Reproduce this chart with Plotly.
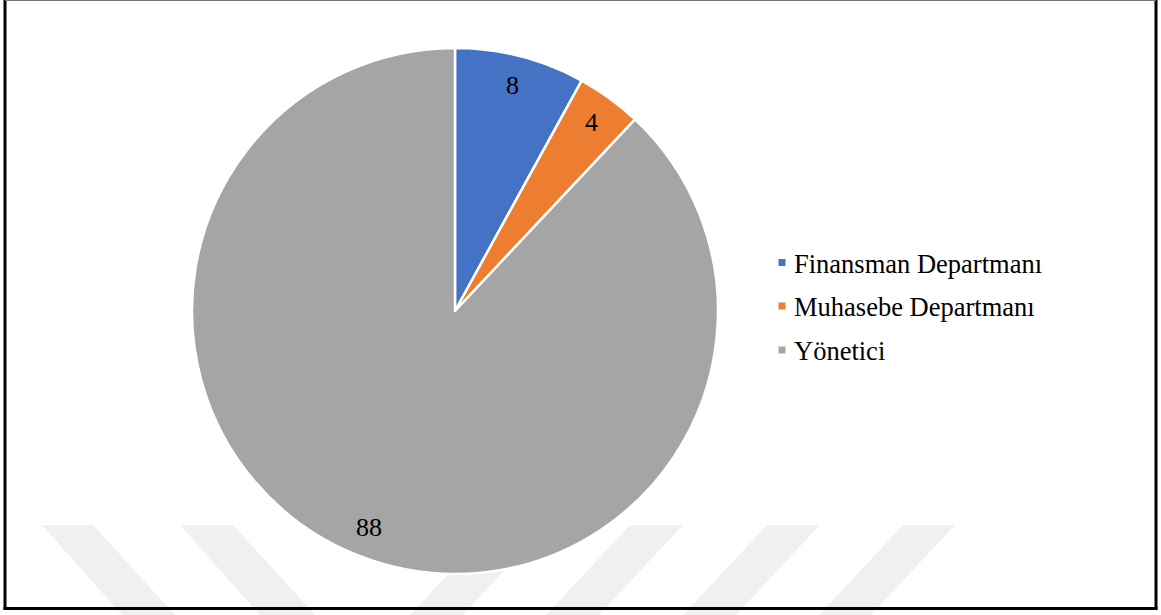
import math
import plotly.graph_objects as go

# Data
labels = ["Finansman Departmanı", "Muhasebe Departmanı", "Yönetici"]
values = [8, 4, 88]
colors = ["#4472C4", "#ED7D31", "#A5A5A5"]

W, H = 1161, 615
FONT = "Liberation Serif, Times New Roman, serif"

# Pie geometry in pixels
cx, cy, R = 455, 311, 263


def px(x):
    return x / W


def py(y):
    return 1 - y / H


fig = go.Figure(
    go.Pie(
        labels=labels,
        values=values,
        marker=dict(colors=colors, line=dict(color="white", width=2.5)),
        sort=False,
        direction="clockwise",
        textinfo="none",
        hoverinfo="label+value",
        showlegend=False,
        domain=dict(x=[px(cx - R), px(cx + R)], y=[py(cy + R), py(cy - R)]),
    )
)

# Value labels placed along each slice's mid-angle
total = sum(values)
cum = 0
annotations = []
for v in values:
    theta = 2 * math.pi * (cum + v / 2) / total
    r = 0.885 * R
    x = cx + r * math.sin(theta)
    y = cy - r * math.cos(theta)
    annotations.append(
        dict(
            x=px(x), y=py(y), xref="paper", yref="paper",
            text=str(v), showarrow=False,
            font=dict(family=FONT, size=26, color="black"),
            xanchor="center", yanchor="middle",
        )
    )
    cum += v

shapes = []

# Legend: colour keys and category names
legend_x_key, legend_x_text = 782, 792
legend_rows = [262.5, 306, 350]
for lab, col, yy in zip(labels, colors, legend_rows):
    shapes.append(
        dict(type="rect", xref="paper", yref="paper",
             x0=px(legend_x_key - 3.5), x1=px(legend_x_key + 3.5),
             y0=py(yy + 3.5), y1=py(yy - 3.5),
             fillcolor=col, line=dict(width=0))
    )
    annotations.append(
        dict(
            x=px(legend_x_text), y=py(yy + 1), xref="paper", yref="paper",
            text=lab, showarrow=False,
            font=dict(family=FONT, size=26.5, color="black"),
            xanchor="left", yanchor="middle",
        )
    )

# Faint diagonal background stripes
stripes = [
    (42, 93, 123, 176),
    (180, 233, 261, 316),
    (494, 547, 409, 462),
    (630, 683, 545, 598),
    (767, 820, 682, 735),
    (903, 955, 818, 870),
]
for xa, xb, xc, xd in stripes:
    path = (
        f"M{px(xa)},{py(525)} L{px(xb)},{py(525)} "
        f"L{px(xd)},{py(616)} L{px(xc)},{py(616)} Z"
    )
    shapes.append(
        dict(type="path", path=path, xref="paper", yref="paper",
             fillcolor="#f0f0f0", line=dict(width=0), layer="below")
    )

# Frame
frame = dict(xref="paper", yref="paper", layer="above")
shapes += [
    dict(type="line", x0=px(5), x1=px(5), y0=py(0), y1=py(609.5),
         line=dict(color="black", width=3), **frame),
    dict(type="line", x0=px(1156), x1=px(1156), y0=py(0), y1=py(609.5),
         line=dict(color="black", width=3), **frame),
    dict(type="line", x0=px(3.5), x1=px(1157.5), y0=py(608.5), y1=py(608.5),
         line=dict(color="black", width=3), **frame),
    dict(type="line", x0=px(5), x1=px(1156), y0=py(0.5), y1=py(0.5),
         line=dict(color="#777777", width=1.2), **frame),
]

fig.update_layout(
    width=W,
    height=H,
    margin=dict(l=0, r=0, t=0, b=0),
    paper_bgcolor="white",
    plot_bgcolor="white",
    font=dict(family=FONT, size=26, color="black"),
    showlegend=False,
    annotations=annotations,
    shapes=shapes,
)

fig.write_html("out.html")
